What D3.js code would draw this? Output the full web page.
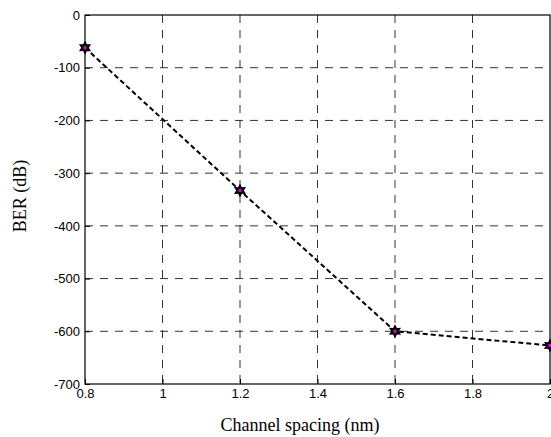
<!DOCTYPE html>
<html>
<head>
<meta charset="utf-8">
<script src="https://cdn.jsdelivr.net/npm/d3@7"></script>
<style>
  body { margin: 0; background: #fff; }
  svg { display: block; }
  .tick text { font-family: Arial, "Liberation Sans", sans-serif; font-size: 13px; fill: #000; }
</style>
</head>
<body>
<svg id="chart" width="551" height="437"></svg>
<script>
var spacing = [0.8, 1.2, 1.6, 2.0]
var ber = [-62, -333, -600, -627]
var xTicks = [0.8, 1, 1.2, 1.4, 1.6, 1.8, 2]
var yTicks = [0, -100, -200, -300, -400, -500, -600, -700]

var margin = {top: 15, right: 1, bottom: 53, left: 85}
var width = 551 - margin.left - margin.right
var height = 437 - margin.top - margin.bottom

var svg = d3.select("#chart")
var g = svg.append("g")
  .attr("transform", "translate(" + margin.left + "," + margin.top + ")")

var x = d3.scaleLinear().domain([0.8, 2]).range([0, width])
var y = d3.scaleLinear().domain([-700, 0]).range([height, 0])

// grid
g.append("g").selectAll("line")
  .data(xTicks.slice(1, -1))
  .join("line")
    .attr("x1", d => x(d)).attr("x2", d => x(d))
    .attr("y1", 0).attr("y2", height)
    .attr("stroke", "#333").attr("stroke-width", 1)
    .attr("stroke-dasharray", "8,7")
g.append("g").selectAll("line")
  .data(yTicks.slice(1, -1))
  .join("line")
    .attr("x1", 0).attr("x2", width)
    .attr("y1", d => y(d)).attr("y2", d => y(d))
    .attr("stroke", "#333").attr("stroke-width", 1)
    .attr("stroke-dasharray", "8,7")

// axes
var xAxis = g.append("g")
  .attr("transform", "translate(0," + height + ")")
  .call(d3.axisBottom(x).tickValues(xTicks).tickSize(-5).tickPadding(5)
    .tickFormat(d => String(d)))
var yAxis = g.append("g")
  .call(d3.axisLeft(y).tickValues(yTicks).tickSize(-5).tickPadding(5)
    .tickFormat(d => String(d)))
g.selectAll(".domain").remove()
g.selectAll(".tick line").attr("stroke", "#000")

// box
g.append("rect")
  .attr("width", width).attr("height", height)
  .attr("fill", "none").attr("stroke", "#000").attr("stroke-width", 1.2)

// data line
var pts = spacing.map((s, i) => [s, ber[i]])
g.append("path")
  .datum(pts)
  .attr("fill", "none")
  .attr("stroke", "#000")
  .attr("stroke-width", 2)
  .attr("stroke-dasharray", "5,3")
  .attr("d", d3.line().x(d => x(d[0])).y(d => y(d[1])))

// hexagram markers
function hexagram(r) {
  var p = []
  for (var k = 0; k < 12; k++) {
    var a = -Math.PI / 2 + k * Math.PI / 6
    var rr = k % 2 === 0 ? r : r * 0.55
    p.push([rr * Math.cos(a), rr * Math.sin(a)])
  }
  return "M" + p.map(q => q.join(",")).join("L") + "Z"
}
var mk = g.append("g").selectAll("g")
  .data(pts)
  .join("g")
    .attr("transform", d => "translate(" + x(d[0]) + "," + y(d[1]) + ")")
mk.append("path").attr("d", hexagram(7)).attr("fill", "#000")
mk.append("rect").attr("x", -1.5).attr("y", -1.5).attr("width", 3).attr("height", 3)
  .attr("fill", "#e000e0")

// labels
svg.append("text")
  .attr("x", 300).attr("y", 431)
  .attr("text-anchor", "middle")
  .style("font-family", "'Liberation Serif', 'Times New Roman', serif")
  .style("font-size", "18px")
  .text("Channel spacing (nm)")
svg.append("text")
  .attr("transform", "translate(26,196) rotate(-90)")
  .attr("text-anchor", "middle")
  .style("font-family", "'Liberation Serif', 'Times New Roman', serif")
  .style("font-size", "18px")
  .text("BER (dB)")
</script>
</body>
</html>
